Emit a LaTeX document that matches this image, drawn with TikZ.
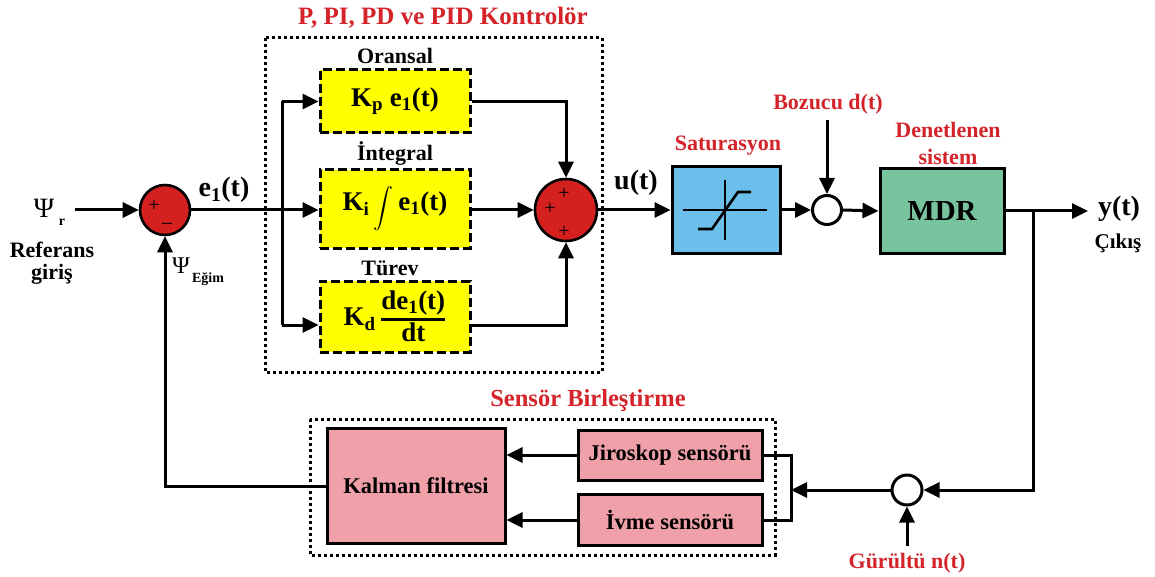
\documentclass[tikz,border=0pt]{standalone}
\usepackage{fontspec}
\usepackage{amsmath}
\setmainfont{Liberation Serif}
\usetikzlibrary{arrows.meta,calc}
\definecolor{txtred}{RGB}{212,36,42}
\definecolor{sumred}{RGB}{212,32,30}
\definecolor{kyellow}{RGB}{255,255,0}
\definecolor{satblue}{RGB}{108,190,235}
\definecolor{mdrgreen}{RGB}{120,196,158}
\definecolor{kpink}{RGB}{240,160,168}
\begin{document}
\begin{tikzpicture}[x=1pt,y=-1pt,
  arr/.style={line width=3pt,-{Triangle[length=16pt,width=15pt]}},
  ln/.style={line width=3pt},
  ybox/.style={draw,line width=3pt,dash pattern=on 9pt off 4pt,fill=kyellow,inner sep=0pt,
     font=\bfseries\fontsize{27}{30}\selectfont},
  sbox/.style={draw,line width=3pt,inner sep=0pt,font=\bfseries\fontsize{22.5}{24}\selectfont},
  dotbox/.style={draw,line width=3pt,dash pattern=on 3pt off 3pt},
  sum/.style={circle,draw,line width=2.6pt,fill=sumred,inner sep=0pt},
  wsum/.style={circle,draw,line width=3pt,fill=white,inner sep=0pt},
  lbl/.style={inner sep=0pt,font=\bfseries\fontsize{22}{24}\selectfont},
  rlbl/.style={lbl,text=txtred},
  big/.style={inner sep=0pt,font=\bfseries\fontsize{28}{30}\selectfont},
  pl/.style={inner sep=0pt,font=\fontsize{20}{20}\selectfont}
]
\useasboundingbox (0,0) rectangle (1155,577);
\fill[white] (0,0) rectangle (1155,577);

% outer dotted boxes
\draw[dotbox] (265,38) rectangle (602,372);
\draw[dotbox] (310,419) rectangle (775,555);

% titles
\node[rlbl,font=\bfseries\fontsize{25}{27}\selectfont] (tpid) at (443,18) {P, PI, PD ve PID Kontrolör};
\node[rlbl,font=\bfseries\fontsize{24.5}{26}\selectfont] (tsen) at (588,401) {Sensör Birleştirme};

% summing junction 1
\node[sum,minimum size=50pt] (s1) at (165,210) {};
\node[pl] (s1p) at (154,206) {+};
\node[pl] (s1m) at (167,226) {–};

% input
\coordinate (in) at (75,210);
\node[inner sep=0pt,font=\fontsize{28}{30}\selectfont] (psir) at (44,208) {Ψ};
\node[inner sep=0pt,font=\bfseries\fontsize{14}{14}\selectfont] (psirs) at (62,222) {r};
\node[lbl] (ref1) at (52,250) {Referans};
\node[lbl] (ref2) at (52,274) {giriş};
\draw[arr] (in) -- (s1.west);

% e1(t)
\node[big] (e1) at (224,190) {e\textsubscript{1}(t)};

% PID boxes
\node[ybox,minimum width=150pt,minimum height=63pt] (kp) at (395,101.5) {K\textsubscript{p} e\textsubscript{1}(t)};
\node[ybox,minimum width=150pt,minimum height=78pt] (ki) at (395,209) {K\textsubscript{i}\,\raisebox{-3pt}{\scalebox{0.8}{$\displaystyle\int$}}\,e\textsubscript{1}(t)};
\node[ybox,minimum width=150pt,minimum height=71pt] (kd) at (395,316.5) {K\textsubscript{d}\,$\genfrac{}{}{2.6pt}{1}{\mbox{de\textsubscript{1}(t)}}{\mbox{dt}}$};
\node[lbl] (lor) at (395,56) {Oransal};
\node[lbl] (lin) at (395,154) {İntegral};
\node[lbl] (ltu) at (390,268) {Türev};

% branching
\coordinate (brT) at (282,101.5);
\coordinate (brB) at (282,325);
\coordinate (brM) at (282,210);
\draw[ln] (s1.east) -- (brM);
\draw[ln] (brT) -- (brB);
\draw[arr] (brM) -- (ki.west|-brM);
\draw[arr] (brT) -- (kp.west);
\draw[arr] (brB) -- (kd.west|-brB);

% summing junction 2
\node[sum,minimum size=62pt] (s2) at (566,210) {};
\node[pl] (s2a) at (564,194) {+};
\node[pl] (s2b) at (550,209) {+};
\node[pl] (s2c) at (564,232) {+};
\draw[arr] (kp.east) -| (s2.north);
\draw[arr] (ki.east|-brM) -- (s2.west);
\draw[arr] (kd.east|-brB) -| (s2.south);

% u(t) and saturation
\node[big] (ut) at (636,183) {u(t)};
\node[sbox,fill=satblue,minimum width=108pt,minimum height=86pt] (sat) at (726,210) {};
\node[rlbl] (lsat) at (728,146) {Saturasyon};
\draw[arr] (s2.east) -- (sat.west);
\draw[ln,line width=2.6pt] (683,210) -- (767,210);
\draw[ln,line width=2.6pt] (725,180) -- (725,240);
\draw[ln,line width=2.6pt] (698,229) -- (712,229) -- (738,192) -- (751,192);

% disturbance
\node[wsum,minimum size=29pt] (ds) at (827,210) {};
\coordinate (din) at (827,120);
\node[rlbl] (ldist) at (828,104) {Bozucu d(t)};
\draw[arr] (sat.east) -- (ds.west);
\draw[arr] (din) -- (ds.north);

% plant
\node[sbox,fill=mdrgreen,minimum width=124pt,minimum height=84pt,font=\bfseries\fontsize{29}{30}\selectfont] (mdr) at (942,211) {MDR};
\node[rlbl] (lden1) at (948,130) {Denetlenen};
\node[rlbl] (lden2) at (948,157) {sistem};
\draw[arr] (ds.east) -- (mdr.west);

% output
\coordinate (yout) at (1088,211);
\coordinate (ybr) at (1033,211);
\node[big] (yt) at (1119,209) {y(t)};
\node[lbl,font=\bfseries\fontsize{21}{22}\selectfont] (cik) at (1118,243) {Çıkış};
\draw[arr] (mdr.east) -- (yout);

% noise
\node[wsum,minimum size=30pt] (ns) at (907,490) {};
\coordinate (nin) at (907,546);
\node[rlbl] (lnoise) at (907,563) {Gürültü n(t)};
\draw[arr] (ybr) |- (ns.east);
\draw[arr] (nin) -- (ns.south);

% sensors
\node[sbox,fill=kpink,minimum width=184pt,minimum height=50pt] (jir) at (670,455) {Jiroskop sensörü};
\node[sbox,fill=kpink,minimum width=184pt,minimum height=51pt] (ivm) at (670,520) {İvme sensörü};
\node[sbox,fill=kpink,minimum width=178pt,minimum height=115pt] (kal) at (416,486) {Kalman filtresi};
\coordinate (jT) at (791,455);
\coordinate (jB) at (791,520);
\coordinate (jM) at (791,490);
\draw[ln] (jir.east) -- (jT) -- (jB) -- (ivm.east);
\draw[arr] (ns.west) -- (jM);
\draw[arr] (jir.west) -- (kal.east|-jir.west);
\draw[arr] (ivm.west) -- (kal.east|-ivm.west);

% feedback
\draw[arr] (kal.west) -| (s1.south);
\node[inner sep=0pt,font=\fontsize{24}{26}\selectfont] (psie) at (181,266) {Ψ};
\node[inner sep=0pt,font=\bfseries\fontsize{14}{14}\selectfont] (psies) at (208,279) {Eğim};
\end{tikzpicture}
\end{document}
